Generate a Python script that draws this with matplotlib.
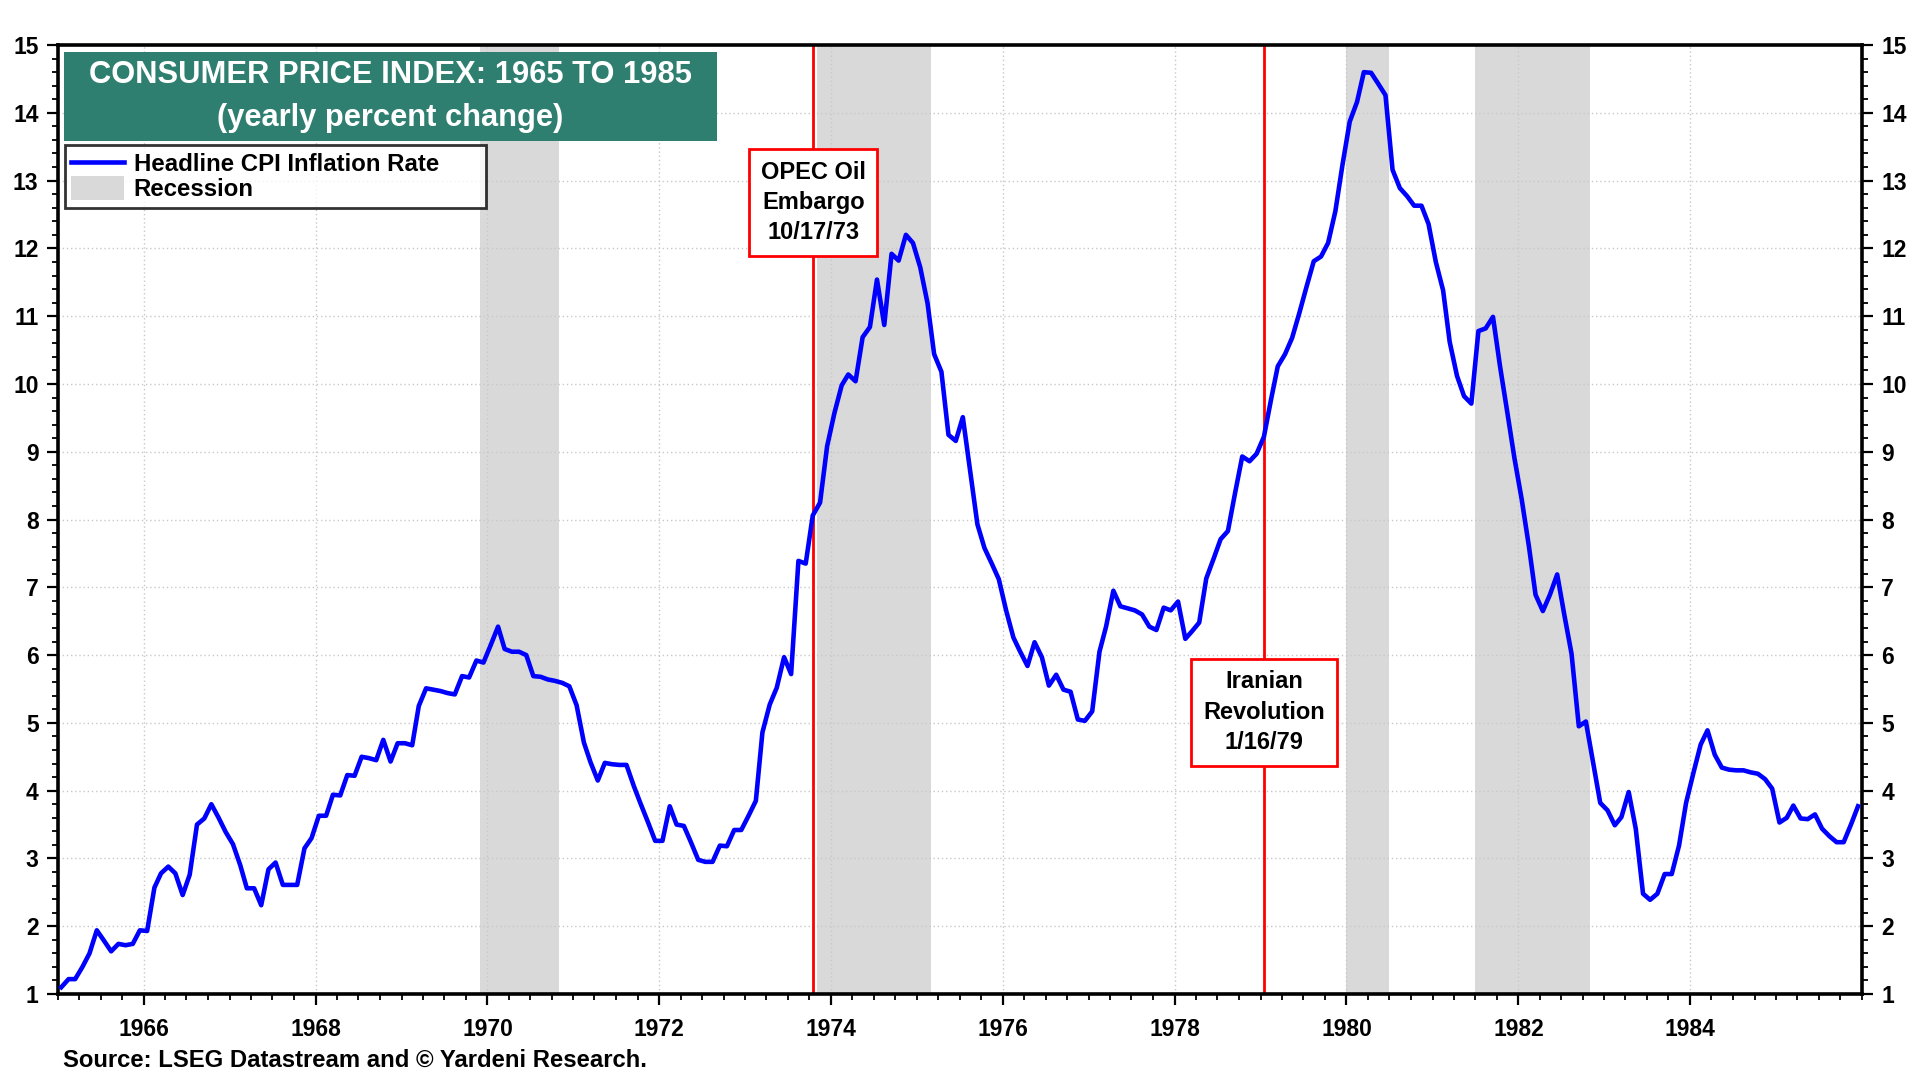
import numpy as np
import pandas as pd
import matplotlib
matplotlib.use('Agg')
import matplotlib.pyplot as plt
import matplotlib.dates as mdates
from matplotlib.ticker import MultipleLocator
from matplotlib.patches import Patch, Rectangle
from matplotlib.lines import Line2D

plt.rcParams['font.family'] = ['Liberation Sans', 'DejaVu Sans']
plt.rcParams['font.weight'] = 'bold'

# headline CPI, yearly percent change, monthly
cpi_1965 = [1.10, 1.22, 1.22, 1.40, 1.60, 1.94, 1.79, 1.63, 1.74, 1.72, 1.74, 1.94]
cpi_1966 = [1.93, 2.57, 2.78, 2.88, 2.78, 2.46, 2.76, 3.50, 3.59, 3.80, 3.60, 3.39]
cpi_1967 = [3.21, 2.90, 2.56, 2.56, 2.31, 2.84, 2.94, 2.61, 2.61, 2.61, 3.15, 3.30]
cpi_1968 = [3.63, 3.63, 3.94, 3.93, 4.23, 4.22, 4.50, 4.48, 4.45, 4.75, 4.43, 4.70]
cpi_1969 = [4.70, 4.67, 5.25, 5.51, 5.49, 5.47, 5.44, 5.42, 5.69, 5.67, 5.92, 5.89]
cpi_1970 = [6.15, 6.42, 6.09, 6.05, 6.05, 6.00, 5.69, 5.68, 5.64, 5.62, 5.59, 5.54]
cpi_1971 = [5.26, 4.71, 4.42, 4.15, 4.41, 4.39, 4.38, 4.38, 4.07, 3.80, 3.53, 3.26]
cpi_1972 = [3.26, 3.77, 3.50, 3.48, 3.24, 2.98, 2.95, 2.95, 3.19, 3.18, 3.42, 3.42]
cpi_1973 = [3.63, 3.85, 4.86, 5.27, 5.52, 5.97, 5.72, 7.39, 7.35, 8.06, 8.25, 9.08]
cpi_1974 = [9.57, 9.98, 10.14, 10.04, 10.69, 10.84, 11.54, 10.87, 11.92, 11.82, 12.20, 12.08]
cpi_1975 = [11.72, 11.19, 10.44, 10.18, 9.25, 9.16, 9.51, 8.72, 7.93, 7.58, 7.35, 7.12]
cpi_1976 = [6.66, 6.26, 6.05, 5.84, 6.19, 5.97, 5.55, 5.71, 5.49, 5.46, 5.05, 5.03]
cpi_1977 = [5.17, 6.05, 6.42, 6.95, 6.72, 6.69, 6.66, 6.60, 6.42, 6.37, 6.70, 6.66]
cpi_1978 = [6.79, 6.24, 6.35, 6.48, 7.13, 7.42, 7.71, 7.83, 8.40, 8.93, 8.86, 8.97]
cpi_1979 = [9.22, 9.78, 10.26, 10.44, 10.68, 11.05, 11.43, 11.81, 11.88, 12.08, 12.55, 13.23]
cpi_1980 = [13.87, 14.16, 14.60, 14.59, 14.43, 14.26, 13.16, 12.89, 12.77, 12.63, 12.63, 12.36]
cpi_1981 = [11.80, 11.38, 10.62, 10.12, 9.82, 9.71, 10.78, 10.82, 10.99, 10.26, 9.58, 8.91]
cpi_1982 = [8.30, 7.60, 6.89, 6.65, 6.89, 7.19, 6.60, 6.02, 4.95, 5.02, 4.41, 3.82]
cpi_1983 = [3.71, 3.49, 3.61, 3.98, 3.44, 2.48, 2.39, 2.48, 2.77, 2.77, 3.19, 3.82]
cpi_1984 = [4.26, 4.68, 4.89, 4.53, 4.34, 4.31, 4.30, 4.30, 4.27, 4.25, 4.17, 4.03]
cpi_1985 = [3.53, 3.60, 3.78, 3.59, 3.58, 3.65, 3.44, 3.33, 3.24, 3.24, 3.50, 3.77]

cpi_yoy = (cpi_1965 + cpi_1966 + cpi_1967 + cpi_1968 + cpi_1969 + cpi_1970 + cpi_1971
           + cpi_1972 + cpi_1973 + cpi_1974 + cpi_1975 + cpi_1976 + cpi_1977 + cpi_1978
           + cpi_1979 + cpi_1980 + cpi_1981 + cpi_1982 + cpi_1983 + cpi_1984 + cpi_1985)

recession_start = ['1969-12-01', '1973-11-01', '1980-01-01', '1981-07-01']
recession_end = ['1970-11-01', '1975-03-01', '1980-07-01', '1982-11-01']

event_dates = ['1973-10-17', '1979-01-16']
event_labels = ['OPEC Oil\nEmbargo\n10/17/73', 'Iranian\nRevolution\n1/16/79']

year_ticks = list(range(1966, 1985, 2))
y_ticks = list(range(1, 16))

# mid-month dates
months = pd.date_range('1965-01-01', periods=len(cpi_yoy), freq='MS') + pd.Timedelta(days=14)

fig = plt.figure(figsize=(19.2, 10.8), dpi=100)
ax = fig.add_axes([0.0302, 0.0796, 0.9396, 0.8787])

for s, e in zip(recession_start, recession_end):
    ax.axvspan(pd.Timestamp(s), pd.Timestamp(e), color='#D9D9D9', lw=0, zorder=1)

for d in event_dates:
    ax.axvline(pd.Timestamp(d), color='#FF0000', lw=2, zorder=2.5)

ax.plot(months, cpi_yoy, color='#0000FF', lw=3.3, zorder=3)

ax.set_xlim(pd.Timestamp('1965-01-01'), pd.Timestamp('1986-01-01'))
ax.set_ylim(1, 15)

ax.set_xticks([pd.Timestamp(f'{y}-01-01') for y in year_ticks])
ax.xaxis.set_major_formatter(mdates.DateFormatter('%Y'))
ax.xaxis.set_minor_locator(mdates.MonthLocator(bymonth=[1, 4, 7, 10]))
ax.set_yticks(y_ticks)
ax.yaxis.set_minor_locator(MultipleLocator(0.2))

ax.tick_params(axis='both', which='major', direction='out', length=8, width=1.6,
               labelsize=16.5, colors='black')
ax.tick_params(axis='both', which='minor', direction='out', length=4, width=1.3)
ax.tick_params(axis='y', which='both', left=True, right=True, labelleft=True, labelright=True, pad=6)
ax.tick_params(axis='x', which='major', pad=9)
for t in ax.xaxis.get_major_ticks() + ax.yaxis.get_major_ticks():
    t.label1.set_fontweight('bold')
    t.label2.set_fontweight('bold')

ax.grid(True, which='major', color='#C8C8C8', linestyle=(0, (1, 2)), linewidth=1)

for sp in ax.spines.values():
    sp.set_linewidth(2.6)
    sp.set_color('black')

# title box
ax.add_patch(Rectangle((0.0033, 0.8988), 0.362, 0.0938, transform=ax.transAxes,
                       facecolor='#2E7F70', edgecolor='none', zorder=5))
ax.text(0.1843, 0.9684, 'CONSUMER PRICE INDEX: 1965 TO 1985', transform=ax.transAxes,
        ha='center', va='center', color='white', fontsize=22.2, fontweight='bold', zorder=6)
ax.text(0.1843, 0.9231, '(yearly percent change)', transform=ax.transAxes,
        ha='center', va='center', color='white', fontsize=22.2, fontweight='bold', zorder=6)

# legend
handles = [Line2D([], [], color='#0000FF', lw=3.3),
           Patch(facecolor='#D9D9D9', edgecolor='none')]
leg = ax.legend(handles, ['Headline CPI Inflation Rate', 'Recession'],
                loc='upper left', bbox_to_anchor=(0.0037, 0.8946 - 0.068, 0.2335, 0.068),
                mode='expand', borderaxespad=0, frameon=True, fancybox=False,
                handlelength=2.2, handleheight=1.1, handletextpad=0.4, labelspacing=0.0,
                borderpad=0.28, prop={'weight': 'bold', 'size': 17.3})
leg.get_frame().set_edgecolor('black')
leg.get_frame().set_linewidth(2)
leg.set_zorder(6)

# event boxes
box_y = [12.68, 5.16]
for d, lab, yv in zip(event_dates, event_labels, box_y):
    ax.text(pd.Timestamp(d), yv, lab, ha='center', va='center', fontsize=17,
            fontweight='bold', linespacing=1.4, zorder=6,
            bbox=dict(boxstyle='square,pad=0.5', facecolor='white', edgecolor='#FF0000', lw=2))

fig.text(62.5 / 1920, 1 - 1060 / 1080, 'Source: LSEG Datastream and \u00a9 Yardeni Research.',
         ha='left', va='center', fontsize=17.2, fontweight='bold')

fig.savefig('out.png', dpi=100)
